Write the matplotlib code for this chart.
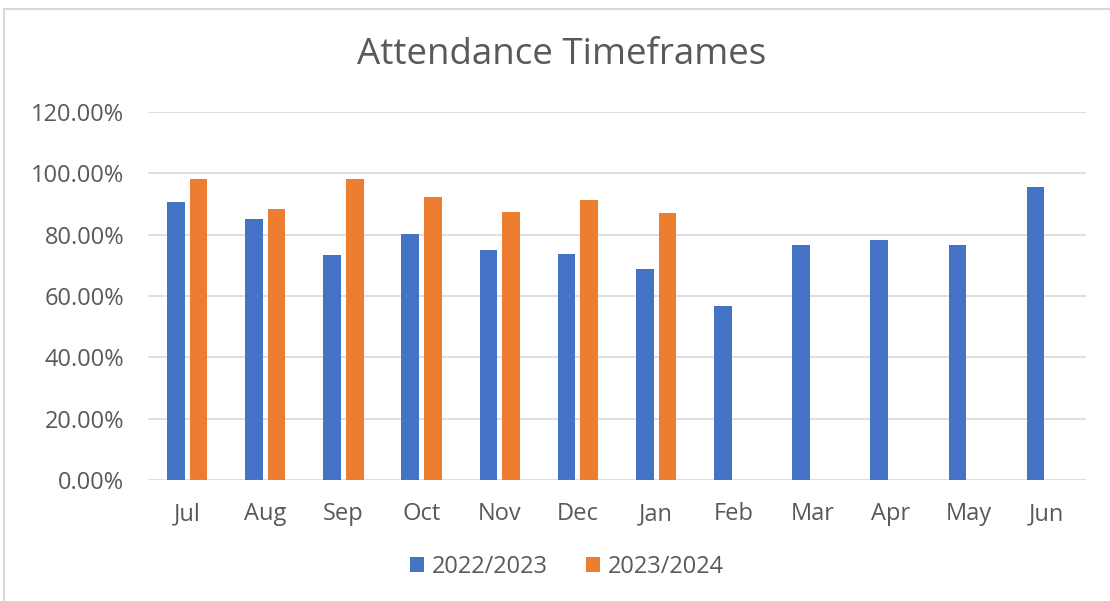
import matplotlib.pyplot as plt
import numpy as np
from matplotlib.patches import Rectangle
from matplotlib.ticker import PercentFormatter

months = ["Jul", "Aug", "Sep", "Oct", "Nov", "Dec", "Jan", "Feb", "Mar", "Apr", "May", "Jun"]
y2223 = [90.6, 85.1, 73.3, 80.2, 74.9, 73.6, 68.9, 56.7, 76.7, 78.2, 76.7, 95.5]
y2324 = [98.1, 88.5, 98.1, 92.2, 87.3, 91.4, 87.2]
labels = ["2022/2023", "2023/2024"]

plt.rcParams['font.family'] = ['Open Sans', 'DejaVu Sans']
txt = '#595959'

fig = plt.figure(figsize=(11.1, 6.01), dpi=100)
ax = fig.add_axes([148/1110, 1-480/601, (1086-148)/1110, (480-112)/601])

x = np.arange(len(months))
w = 0.225
ax.bar(x - 0.145, y2223, w, color='#4472C4', label=labels[0], zorder=3)
ax.bar(x[:len(y2324)] + 0.145, y2324, w, color='#ED7D31', label=labels[1], zorder=3)

ax.set_xlim(-0.5, len(months) - 0.5)
ax.set_ylim(0, 120)
ax.set_yticks(np.arange(0, 121, 20))
ax.yaxis.set_major_formatter(PercentFormatter(decimals=2))
ax.set_xticks(x)
ax.set_xticklabels(months)
ax.grid(axis='y', color='#d9d9d9', linewidth=1.2, zorder=0)
for s in ax.spines.values():
    s.set_visible(False)
ax.tick_params(length=0, colors=txt, labelsize=17)
ax.tick_params(axis='y', pad=17)
ax.tick_params(axis='x', pad=16)

fig.text(562/1110, 1-55/601, "Attendance Timeframes", ha='center', va='center',
         fontsize=26.5, color=txt)
fig.legend(loc='center', bbox_to_anchor=(567/1110, 1-567/601), ncol=2, frameon=False,
           fontsize=17, labelcolor=txt, handlelength=0.6, handleheight=0.6,
           columnspacing=1.6, handletextpad=0.35)

fig.patches.append(Rectangle((4/1110, -0.1), 1.2, 1.1-9/601, transform=fig.transFigure,
                             fill=False, edgecolor='#d9d9d9', linewidth=1.5))

fig.savefig('out.png', dpi=100)
